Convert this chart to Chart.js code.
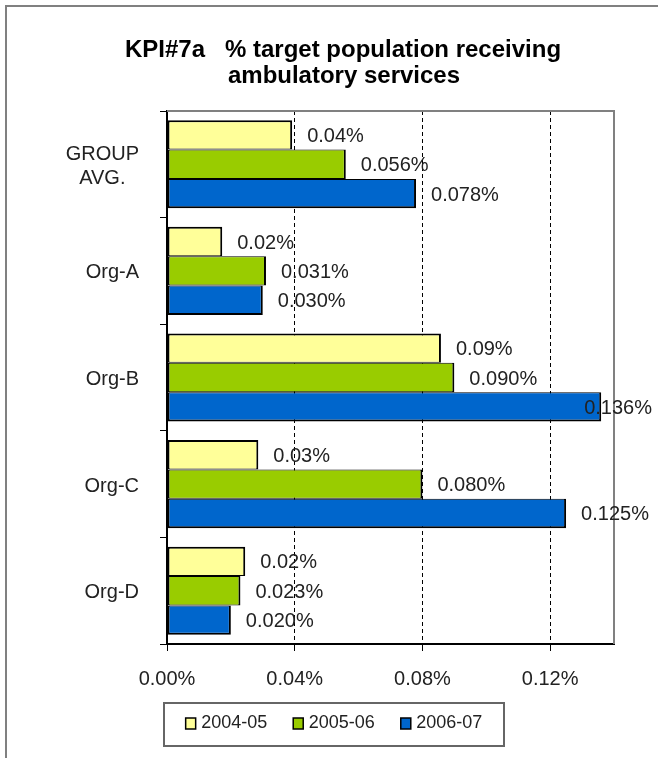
<!DOCTYPE html>
<html>
<head>
<meta charset="utf-8">
<script src="https://cdn.jsdelivr.net/npm/chart.js@4"></script>
<style>
  html, body { margin: 0; padding: 0; background: #fff; }
  #wrap { width: 658px; height: 758px; position: relative; }
</style>
</head>
<body>
<div id="wrap"><canvas id="c" width="658" height="758"></canvas></div>
<script>
// ---- data ----
const titleLines = ['KPI#7a   % target population receiving', 'ambulatory services'];
const categories = [['GROUP', 'AVG.'], ['Org-A'], ['Org-B'], ['Org-C'], ['Org-D']];
const seriesNames = ['2004-05', '2005-06', '2006-07'];
const values2004 = [0.0392, 0.0173, 0.0858, 0.0286, 0.0245];
const values2005 = [0.056, 0.031, 0.090, 0.080, 0.023];
const values2006 = [0.078, 0.030, 0.136, 0.125, 0.020];
const labelDecimals = [2, 3, 3];
const xTickValues = [0, 0.04, 0.08, 0.12];
const xMax = 0.14;

// ---- styles ----
const colors = ['#FFFF99', '#99CC00', '#0066CC'];
const FONT = '"Liberation Sans", Arial, sans-serif';

const decorPlugin = {
  id: 'decor',
  beforeDraw(chart) {
    const ctx = chart.ctx;
    ctx.save();
    ctx.fillStyle = '#fff';
    ctx.fillRect(0, 0, chart.width, chart.height);
    // outer frame (only left/top visible)
    ctx.strokeStyle = '#808080';
    ctx.lineWidth = 2;
    ctx.strokeRect(6, 6, chart.width + 20, chart.height + 20);
    // title
    ctx.fillStyle = '#000';
    ctx.font = 'bold 24px ' + FONT;
    ctx.textAlign = 'center';
    ctx.textBaseline = 'alphabetic';
    ctx.fillText(titleLines[0], 343, 57);
    ctx.fillText(titleLines[1], 344, 83);
    ctx.restore();
  },
  beforeDatasetsDraw(chart) {
    const ctx = chart.ctx, a = chart.chartArea;
    ctx.save();
    ctx.strokeStyle = '#808080';
    ctx.lineWidth = 2;
    ctx.beginPath();
    ctx.moveTo(a.left, a.top);
    ctx.lineTo(a.right, a.top);
    ctx.lineTo(a.right, a.bottom);
    ctx.stroke();
    ctx.restore();
  },
  afterDatasetsDraw(chart) {
    const ctx = chart.ctx;
    ctx.save();
    // value labels
    ctx.font = '20px ' + FONT;
    ctx.fillStyle = '#222';
    ctx.textAlign = 'left';
    ctx.textBaseline = 'middle';
    chart.data.datasets.forEach((ds, di) => {
      const meta = chart.getDatasetMeta(di);
      meta.data.forEach((el, i) => {
        const txt = ds.data[i].toFixed(labelDecimals[di]) + '%';
        const w = ctx.measureText(txt).width;
        let x = el.x + 15;
        if (x + w > 652) x = 652 - w;
        ctx.fillText(txt, x, el.y + 1.5);
      });
    });
    // category labels (multi-line block centred, right aligned)
    const ys = chart.scales.y;
    const rightEdge = 139;
    const lh = 24;
    categories.forEach((lines, i) => {
      const cy = ys.getPixelForValue(i);
      const widths = lines.map(l => ctx.measureText(l).width);
      const bw = Math.max(...widths);
      const cx = rightEdge - bw / 2;
      ctx.textAlign = 'center';
      lines.forEach((l, j) => {
        const y = cy + (j - (lines.length - 1) / 2) * lh + 2;
        ctx.fillText(l, cx, y);
      });
    });
    // legend
    ctx.font = '18px ' + FONT;
    const box = { x: 164, y: 703, w: 340, h: 43 };
    ctx.strokeStyle = '#666';
    ctx.lineWidth = 2;
    ctx.strokeRect(box.x, box.y, box.w, box.h);
    const sw = 10, sh = 11, tgap = 5.5, igap = 26;
    const tws = seriesNames.map(n => ctx.measureText(n).width);
    const total = tws.reduce((s, w) => s + sw + tgap + w, 0) + igap * (seriesNames.length - 1);
    let x = box.x + box.w / 2 - total / 2;
    const my = 723.5;
    ctx.textAlign = 'left';
    seriesNames.forEach((n, i) => {
      ctx.fillStyle = colors[i];
      ctx.fillRect(x, my - sh / 2, sw, sh);
      ctx.strokeStyle = '#000';
      ctx.lineWidth = 1.5;
      ctx.strokeRect(x, my - sh / 2, sw, sh);
      ctx.fillStyle = '#222';
      ctx.fillText(n, x + sw + tgap, my);
      x += sw + tgap + tws[i] + igap;
    });
    ctx.restore();
  }
};

const borders = [
  { top: 2, bottom: 1, left: 2, right: 2 },
  { top: 1, bottom: 1, left: 2, right: 2 },
  { top: 1, bottom: 2, left: 2, right: 2 }
];

new Chart(document.getElementById('c'), {
  type: 'bar',
  data: {
    labels: categories,
    datasets: [values2004, values2005, values2006].map((vals, i) => ({
      label: seriesNames[i],
      data: vals,
      backgroundColor: colors[i],
      borderColor: '#000',
      borderWidth: borders[i],
      borderSkipped: false,
      categoryPercentage: 0.826,
      barPercentage: 1.0
    }))
  },
  options: {
    indexAxis: 'y',
    responsive: false,
    animation: false,
    devicePixelRatio: 1,
    layout: { padding: { left: 167, right: 44, top: 111, bottom: 54 } },
    plugins: {
      legend: { display: false },
      title: { display: false },
      tooltip: { enabled: false }
    },
    scales: {
      x: {
        min: 0,
        max: xMax,
        afterFit(s) { s.height = 60; },
        afterBuildTicks(s) { s.ticks = xTickValues.map(v => ({ value: v })); },
        ticks: {
          autoSkip: false,
          maxRotation: 0,
          padding: 16,
          color: '#222',
          font: { family: FONT, size: 20 },
          callback: v => v.toFixed(2) + '%'
        },
        grid: {
          color: c => (c.tick && c.tick.value > 0) ? '#000' : 'rgba(0,0,0,0)',
          tickColor: '#000',
          tickBorderDash: [],
          tickLength: 7,
          lineWidth: 1
        },
        border: { color: '#000', width: 2, dash: [4, 3] }
      },
      y: {
        afterFit(s) { s.width = 0; },
        ticks: { display: false },
        grid: {
          offset: true,
          drawOnChartArea: false,
          drawTicks: true,
          tickLength: 7,
          tickColor: '#000',
          color: '#000'
        },
        border: { color: '#000', width: 2 }
      }
    }
  },
  plugins: [decorPlugin]
});
</script>
</body>
</html>
